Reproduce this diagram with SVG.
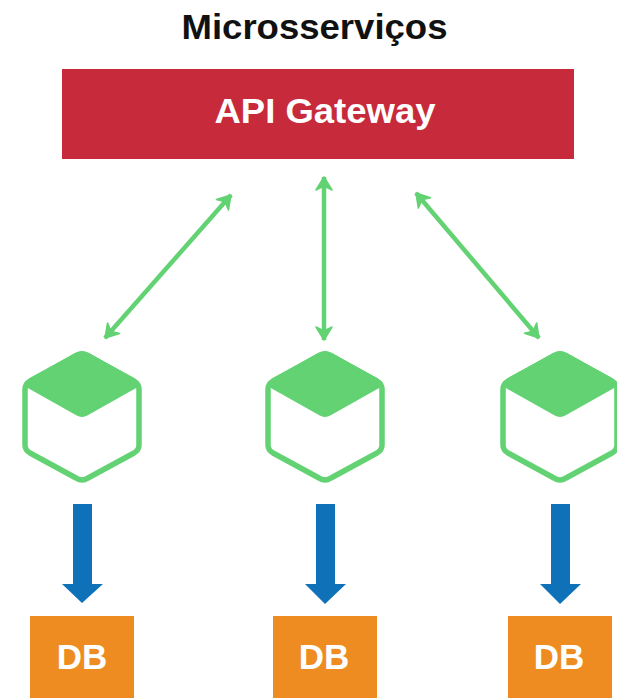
<svg xmlns="http://www.w3.org/2000/svg" width="617" height="698" viewBox="0 0 617 698">
<style>
text{font-family:"Liberation Sans",Arial,sans-serif;font-weight:700;text-anchor:middle}
.l{fill:#fff}
.c{fill:#fff;stroke:#62d273;stroke-width:5.5;stroke-linejoin:round}
.t{fill:#62d273;stroke:#62d273;stroke-width:3;stroke-linejoin:round}
.a{fill:none;stroke:#62d273;stroke-width:4.500}
.d{fill:#ee8c22}
.b{fill:#0f72b8}
</style>
<defs>
<marker id="h" markerUnits="userSpaceOnUse" markerWidth="24" markerHeight="24" refX="18" refY="12" orient="auto-start-reverse"><path d="M5 4L18 12L5 20L9 12Z" fill="#62d273" stroke="#62d273" stroke-width="1.5" stroke-linejoin="round"/></marker>
<g id="cube"><path class="c" d="M-6 -61Q0 -65 6 -61L52 -36Q57 -33 57 -28V28Q57 33 52 36L6 61Q0 65 -6 61L-52 36Q-57 33 -57 28V-28Q-57 -33 -52 -36Z"/><path class="t" d="M-6 -63Q0 -66 6 -63L52 -37Q57 -33 53 -30L5 -3Q0 0 -5 -3L-53 -30Q-57 -33 -52 -37Z"/></g>
</defs>
<rect width="617" height="698" fill="#fff"/>
<text x="314.500" y="39" font-size="35" fill="#111" textLength="266" lengthAdjust="spacingAndGlyphs">Microsserviços</text>
<g id="gateway"><rect x="62" y="69" width="512" height="90" fill="#c72a3a"/><text class="l" x="325" y="123" font-size="35" textLength="221" lengthAdjust="spacingAndGlyphs">API Gateway</text></g>
<g id="connectors">
<path class="a" d="M231 195L105 338" marker-start="url(#h)" marker-end="url(#h)"/>
<path class="a" d="M324 177V340" marker-start="url(#h)" marker-end="url(#h)"/>
<path class="a" d="M416 193L539 338" marker-start="url(#h)" marker-end="url(#h)"/>
<path class="b" d="M73 504H92V584H103L82 603L62 584H73Z"/>
<path class="b" d="M316 504H335V584H346L325 604L305 584H316Z"/>
<path class="b" d="M551 504H570V584H581L560 604L540 584H551Z"/>
</g>
<g id="service1"><use href="#cube" x="82" y="417"/></g>
<g id="service2"><use href="#cube" x="325" y="417"/></g>
<g id="service3"><use href="#cube" x="560" y="417"/></g>
<g id="db1"><rect class="d" x="30" y="616" width="104" height="82"/><text class="l" x="82" y="669" font-size="35">DB</text></g>
<g id="db2"><rect class="d" x="273" y="616" width="104" height="82"/><text class="l" x="324" y="669" font-size="35">DB</text></g>
<g id="db3"><rect class="d" x="508" y="616" width="104" height="82"/><text class="l" x="559" y="669" font-size="35">DB</text></g>
</svg>
